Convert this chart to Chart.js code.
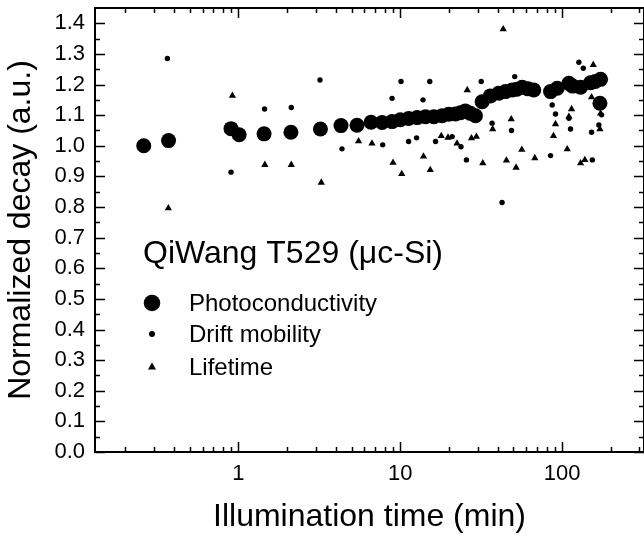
<!DOCTYPE html>
<html>
<head>
<meta charset="utf-8">
<script src="https://cdn.jsdelivr.net/npm/chart.js@4.4.1/dist/chart.umd.min.js"></script>
<style>
  html, body { margin: 0; padding: 0; background: #fff; }
  #wrap { width: 644px; height: 540px; }
</style>
</head>
<body>
<div id="wrap"><canvas id="decayChart" width="644" height="540"></canvas></div>
<script>
const FONT = 'Arial, "Liberation Sans", sans-serif';

// Photoconductivity (big dots)
const photoTime = [0.26, 0.37, 0.90, 1.01, 1.44, 2.11, 3.21, 4.30, 5.40, 6.59, 7.71, 8.89, 10.0, 11.25,
  12.7, 14.3, 16.1, 18.1, 19.9, 21.9, 23.5, 25.2, 27.1, 29.1, 32.0, 36.0, 40.6, 44.6, 49.1, 52.5,
  56.6, 61.5, 66.7, 84.7, 93.2, 109.9, 116, 129.8, 149.6, 160, 172.6, 171];
const photoValue = [1.000, 1.017, 1.056, 1.036, 1.039, 1.044, 1.055, 1.066, 1.067, 1.077, 1.076, 1.079, 1.085, 1.089,
  1.092, 1.095, 1.095, 1.098, 1.103, 1.104, 1.108, 1.114, 1.106, 1.098, 1.144, 1.163, 1.172, 1.177, 1.182, 1.185,
  1.191, 1.186, 1.182, 1.177, 1.188, 1.204, 1.195, 1.191, 1.206, 1.210, 1.217, 1.139];

// Drift mobility (small dots)
const mobilityTime = [0.364, 0.90, 1.45, 2.12, 3.19, 4.36, 7.78, 8.89, 10.1, 11.25, 12.6, 13.8, 15.2, 16.5,
  20.9, 23.7, 25.6, 31.6, 36.9, 42.5, 48.6, 50.9, 84.7, 86.7, 90.9, 110, 112.5, 126.7, 134.9, 151.8,
  153.4, 168.4, 175];
const mobilityValue = [1.285, 0.914, 1.120, 1.125, 1.215, 0.990, 1.003, 1.155, 1.210, 1.014, 1.026, 1.150, 1.210, 1.014,
  1.030, 0.997, 0.954, 1.210, 1.074, 0.815, 1.050, 1.226, 0.968, 1.133, 1.104, 1.090, 1.055, 1.273, 1.253, 1.044,
  0.954, 1.068, 1.101];

// Lifetime (triangles)
const lifetimeTime = [0.369, 0.918, 1.456, 2.12, 3.25, 5.52, 6.68, 9.01, 10.2, 13.9, 15.3, 17.9, 19.7, 22.4,
  25.9, 27.5, 29.5, 32.3, 37.2, 43.2, 45.2, 48.4, 51.9, 56.3, 67.7, 88.3, 90.9, 107.4, 110, 114.2,
  129.8, 138, 151.8, 155.5, 171, 172.6];
const lifetimeValue = [0.796, 1.164, 0.938, 0.938, 0.880, 1.015, 1.008, 0.945, 0.908, 0.965, 0.921, 1.032, 1.027, 1.008,
  1.182, 1.025, 1.030, 0.943, 1.054, 1.381, 0.952, 1.087, 0.929, 0.987, 0.960, 1.032, 1.071, 0.989, 1.095, 1.120,
  0.943, 0.954, 1.159, 1.264, 1.054, 1.106];

// axis ticks
const xLabelTicks = [1, 10, 100];
const xMinorTicks = [0.2, 0.3, 0.4, 0.5, 0.6, 0.7, 0.8, 0.9, 2, 3, 4, 5, 6, 7, 8, 9,
  20, 30, 40, 50, 60, 70, 80, 90, 200, 300];
const yMajorTicks = [0.0, 0.1, 0.2, 0.3, 0.4, 0.5, 0.6, 0.7, 0.8, 0.9, 1.0, 1.1, 1.2, 1.3, 1.4];
const yMinorTicks = [0.05, 0.15, 0.25, 0.35, 0.45, 0.55, 0.65, 0.75, 0.85, 0.95, 1.05, 1.15, 1.25, 1.35];

const sampleName = 'QiWang T529 (\u03bcc-Si)';
const seriesNames = ['Photoconductivity', 'Drift mobility', 'Lifetime'];

function pairs(xs, ys) {
    return xs.map((v, i) => ({ x: v, y: ys[i] }));
}

// frame, inward ticks, sample label and key
const framePlugin = {
    id: 'frameAndKey',
    afterDatasetsDraw(chart) {
        const { ctx, chartArea: a, scales: { x, y } } = chart;
        ctx.save();
        ctx.strokeStyle = '#000';
        ctx.lineWidth = 2;
        ctx.strokeRect(a.left, a.top, a.right - a.left, a.bottom - a.top);

        ctx.lineWidth = 1.5;
        ctx.beginPath();
        const xTick = (v, len) => {
            const px = Math.round(x.getPixelForValue(v)) + 0.5;
            ctx.moveTo(px, a.bottom); ctx.lineTo(px, a.bottom - len);
            ctx.moveTo(px, a.top); ctx.lineTo(px, a.top + len);
        };
        const yTick = (v, len) => {
            const py = Math.round(y.getPixelForValue(v)) + 0.5;
            ctx.moveTo(a.left, py); ctx.lineTo(a.left + len, py);
            ctx.moveTo(a.right, py); ctx.lineTo(a.right - len, py);
        };
        xLabelTicks.forEach(v => xTick(v, 10));
        xMinorTicks.forEach(v => xTick(v, 5));
        yMajorTicks.forEach(v => yTick(v, 10));
        yMinorTicks.forEach(v => yTick(v, 5));
        ctx.stroke();

        ctx.fillStyle = '#000';
        ctx.textBaseline = 'alphabetic';
        ctx.textAlign = 'left';
        ctx.font = '32px ' + FONT;
        ctx.fillText(sampleName, 143, 263);

        // key
        ctx.font = '24px ' + FONT;
        const keyX = 152;
        const rows = [303, 334, 367];
        ctx.beginPath(); ctx.arc(keyX, rows[0], 8.3, 0, Math.PI * 2); ctx.fill();
        ctx.beginPath(); ctx.arc(keyX, rows[1], 3, 0, Math.PI * 2); ctx.fill();
        ctx.beginPath();
        ctx.moveTo(keyX, rows[2] - 4.5); ctx.lineTo(keyX + 4, rows[2] + 2.5); ctx.lineTo(keyX - 4, rows[2] + 2.5);
        ctx.closePath(); ctx.fill();
        seriesNames.forEach((name, i) => ctx.fillText(name, 189, rows[i] + 8));
        ctx.restore();
    }
};

const ctx = document.getElementById('decayChart').getContext('2d');
const decayChart = new Chart(ctx, {
    type: 'scatter',
    data: {
        datasets: [{
            label: seriesNames[0],
            data: pairs(photoTime, photoValue),
            pointStyle: 'circle',
            pointRadius: 7.5,
            backgroundColor: '#000',
            borderWidth: 0
        }, {
            label: seriesNames[1],
            data: pairs(mobilityTime, mobilityValue),
            pointStyle: 'circle',
            pointRadius: 2.7,
            backgroundColor: '#000',
            borderWidth: 0
        }, {
            label: seriesNames[2],
            data: pairs(lifetimeTime, lifetimeValue),
            pointStyle: 'triangle',
            pointRadius: 4.2,
            backgroundColor: '#000',
            borderWidth: 0
        }]
    },
    options: {
        responsive: false,
        animation: false,
        layout: { autoPadding: false, padding: { top: 8, right: 0, left: 0, bottom: 0 } },
        scales: {
            x: {
                type: 'logarithmic',
                min: 0.13,
                max: 320,
                grid: { display: false, drawTicks: false },
                border: { display: false },
                afterBuildTicks: scale => {
                    scale.ticks = xLabelTicks.map(v => ({ value: v }));
                },
                afterFit: scale => {
                    scale.height = 88;
                    scale.paddingLeft = 0;
                    scale.paddingRight = 0;
                },
                ticks: {
                    color: '#000',
                    font: { family: FONT, size: 22 },
                    padding: 9,
                    maxRotation: 0,
                    autoSkip: false,
                    callback: v => String(v)
                },
                title: {
                    display: true,
                    text: 'Illumination time (min)',
                    color: '#000',
                    font: { family: FONT, size: 32 },
                    padding: { top: 0, bottom: 4 }
                }
            },
            y: {
                min: 0,
                max: 1.45,
                grid: { display: false, drawTicks: false },
                border: { display: false },
                afterBuildTicks: scale => {
                    scale.ticks = yMajorTicks.map(v => ({ value: v }));
                },
                afterFit: scale => {
                    scale.width = 95;
                    scale.paddingTop = 0;
                    scale.paddingBottom = 0;
                },
                ticks: {
                    color: '#000',
                    font: { family: FONT, size: 22 },
                    padding: 10,
                    autoSkip: false,
                    callback: v => Number(v).toFixed(1)
                },
                title: {
                    display: true,
                    text: 'Normalized decay (a.u.)',
                    color: '#000',
                    font: { family: FONT, size: 32 },
                    padding: { top: 2, bottom: 0 }
                }
            }
        },
        plugins: {
            legend: { display: false },
            tooltip: { enabled: false }
        }
    },
    plugins: [framePlugin]
});
</script>
</body>
</html>
